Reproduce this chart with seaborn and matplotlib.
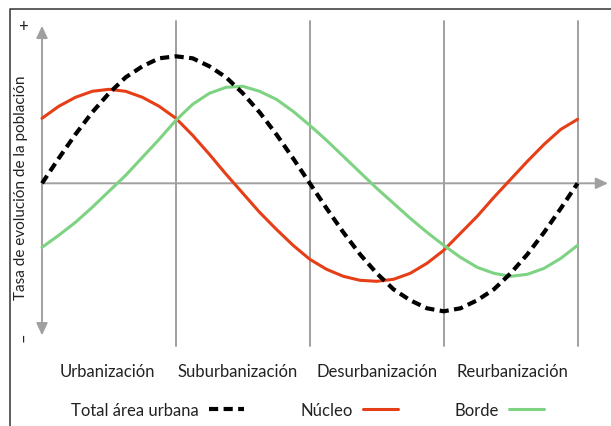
import matplotlib
matplotlib.use("Agg")
import matplotlib.pyplot as plt
import seaborn as sns

# phases of urban development (x = 0..4) and population change rates
fases = [0, 0.125, 0.25, 0.375, 0.5, 0.625, 0.75, 0.875, 1,
         1.125, 1.25, 1.375, 1.5, 1.625, 1.75, 1.875, 2,
         2.125, 2.25, 2.375, 2.5, 2.625, 2.75, 2.875, 3,
         3.125, 3.25, 3.375, 3.5, 3.625, 3.75, 3.875, 4]

total = [0, 0.25, 0.49, 0.71, 0.90, 1.06, 1.17, 1.25, 1.27,
         1.25, 1.17, 1.06, 0.90, 0.71, 0.49, 0.25, 0,
         -0.25, -0.49, -0.71, -0.90, -1.06, -1.17, -1.25, -1.28,
         -1.25, -1.17, -1.06, -0.90, -0.71, -0.49, -0.25, 0]

nucleo = [0.65, 0.77, 0.86, 0.92, 0.94, 0.92, 0.86, 0.77, 0.65,
          0.48, 0.29, 0.09, -0.10, -0.29, -0.46, -0.62, -0.76,
          -0.86, -0.93, -0.97, -0.98, -0.96, -0.90, -0.80, -0.67,
          -0.50, -0.33, -0.14, 0.04, 0.22, 0.39, 0.54, 0.64]

borde = [-0.64, -0.52, -0.39, -0.24, -0.08, 0.08, 0.26, 0.44, 0.63,
         0.79, 0.90, 0.96, 0.97, 0.92, 0.84, 0.72, 0.58,
         0.43, 0.27, 0.11, -0.05, -0.20, -0.35, -0.49, -0.62,
         -0.74, -0.84, -0.90, -0.93, -0.91, -0.85, -0.75, -0.62]

etapas = ['Urbanización', 'Suburbanización', 'Desurbanización', 'Reurbanización']
etapa_pos = [0.49, 1.46, 2.50, 3.51]
limites = [1, 2, 3, 4]

ROJO = '#e63e17'
VERDE = '#7ed383'
GRIS = '#a0a0a0'
TEXTO = '#222222'

sns.set_theme(style="white")
plt.rcParams['font.family'] = ['Lato', 'DejaVu Sans']

fig = plt.figure(figsize=(6.11, 4.27), dpi=100)
ax = fig.add_axes([0, 0, 1, 1])
ax.set_xlim(-0.3137, 4.2494)
ax.set_ylim(-2.427, 1.843)
ax.axis('off')

# outer frame (left and top edges)
ax.plot([-0.239, -0.239, 4.3], [-2.5, 1.743, 1.743], color='#333333', lw=1.1, clip_on=False)

# phase separators
for xb in limites:
    ax.plot([xb, xb], [-1.625, 1.62], color=GRIS, lw=1.4, zorder=1)

# axes with arrows
ax.annotate('', xy=(0, 1.575), xytext=(0, -1.52),
            arrowprops=dict(arrowstyle='<|-|>,head_length=0.6,head_width=0.28',
                            color=GRIS, lw=1.4, mutation_scale=12, shrinkA=0, shrinkB=0))
ax.annotate('', xy=(4.227, 0), xytext=(0, 0),
            arrowprops=dict(arrowstyle='-|>,head_length=0.6,head_width=0.28',
                            color=GRIS, lw=1.4, mutation_scale=12, shrinkA=0, shrinkB=0))

# series
sns.lineplot(x=fases, y=nucleo, ax=ax, color=ROJO, linewidth=2.2, label='Núcleo',
             zorder=3, solid_joinstyle='round')
sns.lineplot(x=fases, y=borde, ax=ax, color=VERDE, linewidth=2.2, label='Borde',
             zorder=3, solid_joinstyle='round')
sns.lineplot(x=fases, y=total, ax=ax, color='black', linewidth=3,
             linestyle=(0, (2.2, 1.3)), label='Total área urbana', zorder=4)

# phase labels
for nombre, xp in zip(etapas, etapa_pos):
    ax.text(xp, -1.88, nombre, ha='center', va='center', fontsize=12, color=TEXTO)

# y axis label and signs
ax.text(-0.157, -0.032, 'Tasa de evolución de la población', rotation=90,
        ha='center', va='center', fontsize=11, color=TEXTO)
ax.text(-0.139, 1.575, '+', ha='center', va='center', fontsize=12, color=TEXTO)
ax.text(-0.139, -1.525, '–', rotation=90, ha='center', va='center', fontsize=12, color=TEXTO)

# legend: label first, then the line sample
handles, labels = ax.get_legend_handles_labels()
orden = [labels.index('Total área urbana'), labels.index('Núcleo'), labels.index('Borde')]
ax.legend([handles[i] for i in orden], [labels[i] for i in orden],
          ncol=3, markerfirst=False, frameon=False, fontsize=12,
          loc='center left', bbox_to_anchor=(71.0 / 611, 1 - 411.0 / 427),
          bbox_transform=fig.transFigure, borderpad=0, borderaxespad=0,
          handlelength=2.1, handletextpad=0.6, columnspacing=3.4, labelcolor=TEXTO)

fig.savefig('out.png', dpi=100)
